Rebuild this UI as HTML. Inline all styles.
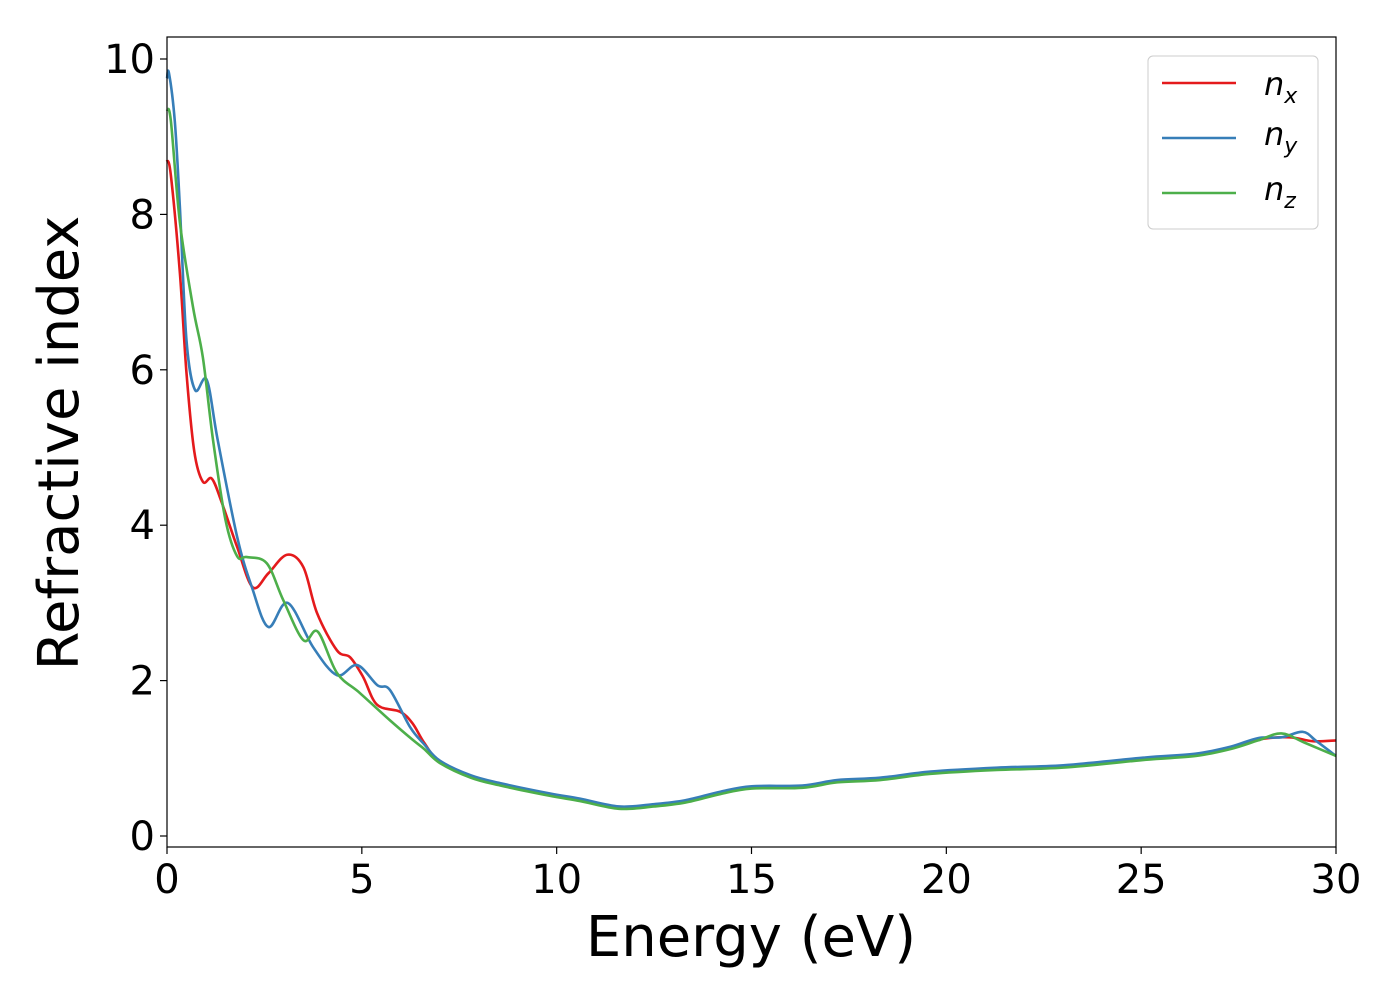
<!DOCTYPE html>
<html><head><meta charset="utf-8"><style>
html,body{margin:0;padding:0;background:#fff;}
svg{display:block;font-family:"DejaVu Sans","Liberation Sans",sans-serif;}
</style></head><body>
<svg id="chart" width="1400" height="1000">
<rect x="167" y="37" width="1169" height="810" fill="#fff" stroke="none"/>
<g id="series"></g>
<rect x="167" y="37" width="1169" height="810" fill="none" stroke="#000" stroke-width="1.2"/>
<g id="xticks"></g>
<g id="yticks"></g>
<text x="751" y="956" font-size="56" text-anchor="middle">Energy (eV)</text>
<text transform="translate(78,443) rotate(-90)" font-size="56" text-anchor="middle">Refractive index</text>
<g>
<rect x="1148" y="56" width="170" height="173" rx="5" fill="#fff" stroke="#ccc" stroke-width="1"/>
<line x1="1162" y1="83" x2="1236" y2="83" stroke="#e41a1c" stroke-width="2.6"/>
<text x="1264" y="95" font-size="32" font-style="italic">n<tspan font-size="22" dy="8">x</tspan></text>
<line x1="1162" y1="138" x2="1236" y2="138" stroke="#377eb8" stroke-width="2.6"/>
<text x="1264" y="145" font-size="32" font-style="italic">n<tspan font-size="22" dy="8">y</tspan></text>
<line x1="1162" y1="193" x2="1236" y2="193" stroke="#4daf4a" stroke-width="2.6"/>
<text x="1264" y="200" font-size="32" font-style="italic">n<tspan font-size="22" dy="8">z</tspan></text>
</g>
</svg>
<script>
const xTicks=[0,5,10,15,20,25,30];
const yTicks=[0,2,4,6,8,10];
const tail_E=[7.0,7.8,8.55,9.8,10.6,11.6,12.5,13.3,14.2,15.0,16.3,17.2,18.3,19.6,21.3,23,25.1,26.4,27.3,28.0];
const tail_n=[0.95,0.76,0.66,0.53,0.46,0.36,0.39,0.44,0.55,0.62,0.63,0.7,0.73,0.81,0.86,0.89,0.99,1.04,1.13,1.24];
const nx_E=[0,0.1,0.33,0.5,0.7,0.92,1.15,1.4,1.8,2.2,2.6,3.08,3.5,3.85,4.36,4.7,5.03,5.39,5.98,6.3,6.6];
const nx_n=[8.7,8.5,7.25,5.96,4.95,4.56,4.6,4.3,3.72,3.2,3.38,3.62,3.46,2.87,2.39,2.3,2.05,1.69,1.6,1.45,1.2];
const nx_end_E=[28.8,29.4,30];
const nx_end_n=[1.27,1.22,1.23];
const ny_E=[0,0.05,0.2,0.33,0.5,0.72,1.02,1.3,1.8,2.18,2.6,3.1,3.75,4.36,4.88,5.4,5.72,6.24,6.6];
const ny_n=[9.75,9.82,9.2,8.1,6.38,5.74,5.87,5.1,3.85,3.2,2.69,3.0,2.43,2.07,2.2,1.94,1.88,1.4,1.18];
const ny_end_E=[28.6,29.15,29.5,30];
const ny_end_n=[1.27,1.34,1.22,1.03];
const nz_E=[0,0.1,0.33,0.67,0.92,1.18,1.5,1.8,2.05,2.56,2.98,3.5,3.87,4.36,4.95,5.72,6.3,6.6];
const nz_n=[9.35,9.2,7.9,6.8,6.16,5.1,4.07,3.6,3.59,3.51,3.04,2.52,2.63,2.1,1.84,1.49,1.24,1.12];
const nz_end_E=[28.6,29.2,30];
const nz_end_n=[1.32,1.2,1.03];

const X0=167,X1=1336,Y0=836,Y10=59;
const xs=e=>X0+(e-0)*(X1-X0)/30;
const ys=n=>Y0-(n)*(Y0-Y10)/10;
const NS="http://www.w3.org/2000/svg";
const svg=document.getElementById('chart');
const xt=document.getElementById('xticks'), yt=document.getElementById('yticks');
xTicks.forEach(v=>{
 const l=document.createElementNS(NS,'line');
 
 
 l.setAttribute('x1',xs(v));l.setAttribute('x2',xs(v));l.setAttribute('y1',847);l.setAttribute('y2',854);l.setAttribute('stroke','#000');l.setAttribute('stroke-width','1.2');
 xt.appendChild(l);
 const t=document.createElementNS(NS,'text');
 
 
 t.setAttribute('x',xs(v));t.setAttribute('y',893);t.setAttribute('font-size','40');t.setAttribute('text-anchor','middle');
 t.textContent=v;xt.appendChild(t);
});
yTicks.forEach(v=>{
 const l=document.createElementNS(NS,'line');
 
 
 l.setAttribute('x1',160);l.setAttribute('x2',167);l.setAttribute('y1',ys(v));l.setAttribute('y2',ys(v));l.setAttribute('stroke','#000');l.setAttribute('stroke-width','1.2');
 yt.appendChild(l);
 const t=document.createElementNS(NS,'text');
 
 
 t.setAttribute('x',155);t.setAttribute('y',ys(v)+14);t.setAttribute('font-size','40');t.setAttribute('text-anchor','end');
 t.textContent=v;yt.appendChild(t);
});
function pathFrom(E,N){
 const p=E.map((e,i)=>[xs(e),ys(N[i])]);
 let d='M'+p[0][0]+','+p[0][1];
 for(let i=0;i<p.length-1;i++){
  const p0=p[i-1]||p[i],p1=p[i],p2=p[i+1],p3=p[i+2]||p2;
  const c1=[p1[0]+(p2[0]-p0[0])/6,p1[1]+(p2[1]-p0[1])/6];
  const c2=[p2[0]-(p3[0]-p1[0])/6,p2[1]-(p3[1]-p1[1])/6];
  d+=' C'+c1[0]+','+c1[1]+' '+c2[0]+','+c2[1]+' '+p2[0]+','+p2[1];
 }
 return d;
}
const g=document.getElementById('series');
const series=[
 ['nx',nx_E,nx_n,nx_end_E,nx_end_n,'#e41a1c',0],
 ['ny',ny_E,ny_n,ny_end_E,ny_end_n,'#377eb8',0.02],
 ['nz',nz_E,nz_n,nz_end_E,nz_end_n,'#4daf4a',-0.01]
];
series.forEach(s=>{
 const E=s[1].concat(tail_E,s[3]);
 const N=s[2].concat(tail_n.map(v=>v+s[6]),s[4]);
 const path=document.createElementNS(NS,'path');
 
 
 path.setAttribute('d',pathFrom(E,N));
 path.setAttribute('fill','none');path.setAttribute('stroke',s[5]);path.setAttribute('stroke-width','2.6');
 g.appendChild(path);
});
</script>
</body></html>
